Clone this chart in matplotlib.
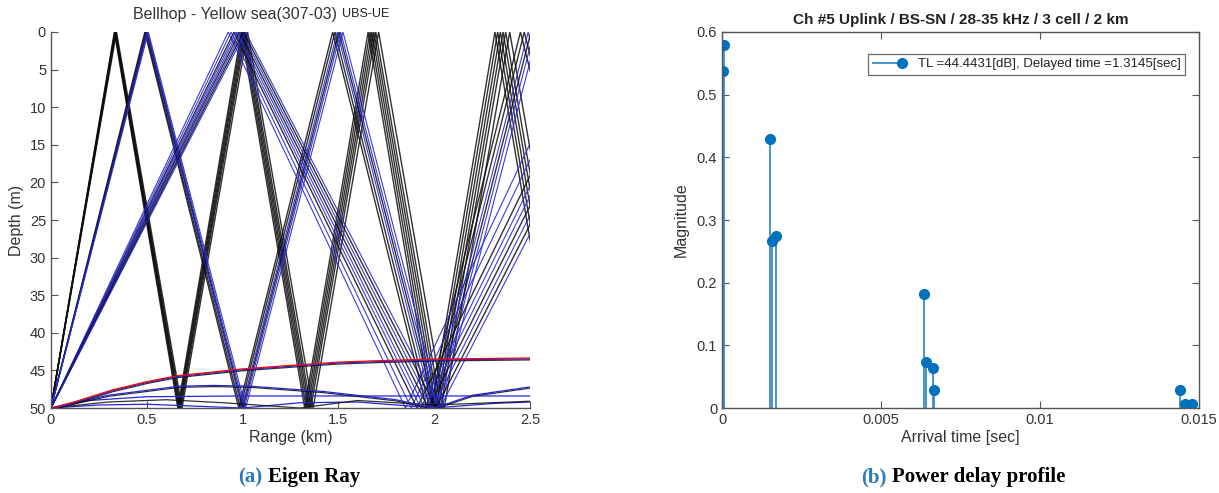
import numpy as np
import matplotlib
matplotlib.use('Agg')
import matplotlib.pyplot as plt
from matplotlib.lines import Line2D
from matplotlib.legend_handler import HandlerLine2D

plt.rcParams['font.family'] = ['Liberation Sans', 'DejaVu Sans']

# ---- (a) Eigen ray data ----
# straight (surface/bottom bouncing) rays: half-skip distance in km and colour
f1_skip = [0.331, 0.333, 0.335, 0.337, 0.339, 0.342]
f1_color = ['k', 'k', 'k', 'k', 'k', 'k']
f2_skip = [0.490, 0.494, 0.498, 0.501, 0.504, 0.508]
f2_color = ['k', 'k', 'b', 'k', 'b', 'b']
f3_skip = [0.925, 0.940, 0.955, 0.965, 0.975, 0.985, 0.995, 1.005, 1.015]
f3_color = ['b', 'b', 'k', 'b', 'b', 'k', 'b', 'k', 'b']

# bottom-refracted rays (range km, depth m)
ray_a_r = [0, 0.12, 0.32, 0.5, 0.66, 1.0, 1.27, 1.5, 1.72, 2.0, 2.5]
ray_a_d = [50, 49.2, 47.6, 46.5, 45.7, 44.8, 44.3, 43.9, 43.7, 43.5, 43.35]
ray_b_r = [0, 0.3, 0.67, 0.85, 1.04, 1.42, 1.8, 2.0, 2.2, 2.5]
ray_b_d = [50, 48.3, 47.1, 47.0, 47.1, 47.8, 48.9, 50, 48.3, 47.2]
ray_c_r = [0, 0.2, 0.5, 1.0, 1.5, 2.0, 2.5]
ray_c_d = [50, 49.0, 48.5, 48.4, 48.4, 48.4, 48.4]
ray_d_r = [0, 0.3, 0.6, 0.9, 1.3, 1.6, 2.0, 2.3, 2.5]
ray_d_d = [50, 49.2, 48.9, 49.3, 50, 49.0, 49.6, 49.3, 49.1]
ray_e_r = [0, 0.25, 0.5, 0.8, 1.0, 1.3, 1.6, 2.0, 2.3, 2.5]
ray_e_d = [50, 49.6, 49.5, 49.8, 50, 49.3, 49.2, 50, 49.4, 49.2]

# ---- (b) Power delay profile data ----
arrival_t = [0.00003, 0.00005, 0.00151, 0.00157, 0.00171,
             0.00636, 0.00640, 0.00665, 0.00668,
             0.01440, 0.01455, 0.01478]
magnitude = [0.537, 0.580, 0.429, 0.267, 0.275,
             0.182, 0.073, 0.064, 0.029,
             0.028, 0.006, 0.006]
legend_text = 'TL =44.4431[dB], Delayed time =1.3145[sec]'

COLS = {'k': (0.05, 0.05, 0.05), 'b': (0.15, 0.15, 0.85)}
AX_GRAY = '#555555'
TXT_GRAY = '#333333'
STEM_C = '#3a8ccc'
MARK_C = '#0072BD'

fig = plt.figure(figsize=(12.19, 4.93), dpi=100)

# ---------------- left panel ----------------
ax1 = fig.add_axes([0.0418, 0.1724, 0.393, 0.7627])

def zigzag(skip):
    n = int(2.6 / skip) + 2
    k = np.arange(n)
    return k * skip, np.where(k % 2 == 0, 50.0, 0.0)

for skips, cols in [(f1_skip, f1_color), (f2_skip, f2_color), (f3_skip, f3_color)]:
    for s, c in zip(skips, cols):
        r, d = zigzag(s)
        ax1.plot(r, d, color=COLS[c], lw=1.0 if c == 'k' else 0.8,
                 alpha=0.85 if c == 'k' else 0.9)

ax1.plot(ray_e_r, ray_e_d, color=COLS['b'], lw=0.9)
ax1.plot(ray_d_r, ray_d_d, color=COLS['k'], lw=0.9, alpha=0.85)
ax1.plot(ray_c_r, ray_c_d, color=COLS['b'], lw=0.9)
ax1.plot(ray_b_r, np.array(ray_b_d) + 0.15, color=COLS['k'], lw=0.9, alpha=0.85)
ax1.plot(ray_b_r, ray_b_d, color=COLS['b'], lw=0.9)
ax1.plot(ray_a_r, np.array(ray_a_d) + 0.25, color=COLS['k'], lw=0.9, alpha=0.85)
ax1.plot(ray_a_r, np.array(ray_a_d) + 0.12, color=COLS['b'], lw=0.9)
ax1.plot(ray_a_r, ray_a_d, color='red', lw=0.9)

ax1.set_xlim(0, 2.5)
ax1.set_ylim(50, 0)
ax1.set_xticks([0, 0.5, 1, 1.5, 2, 2.5])
ax1.set_xticklabels(['0', '0.5', '1', '1.5', '2', '2.5'])
ax1.set_yticks(np.arange(0, 51, 5))
ax1.spines['top'].set_visible(False)
ax1.spines['right'].set_visible(False)
for sp in ['left', 'bottom']:
    ax1.spines[sp].set_color(AX_GRAY)
    ax1.spines[sp].set_linewidth(1.0)
ax1.tick_params(direction='in', length=5, color=AX_GRAY, labelcolor=TXT_GRAY,
                labelsize=10.5)
ax1.set_xlabel('Range (km)', fontsize=11.5, color=TXT_GRAY, labelpad=2)
ax1.set_ylabel('Depth (m)', fontsize=11.5, color=TXT_GRAY, labelpad=4)
fig.text(133 / 1219, 1 - 14 / 493, 'Bellhop - Yellow sea(307-03)', fontsize=11.5,
         color=TXT_GRAY, ha='left', va='center')
fig.text(342 / 1219, 1 - 14 / 493, 'UBS-UE', fontsize=9, color='#222222',
         ha='left', va='center')

# ---------------- right panel ----------------
ax2 = fig.add_axes([0.5923, 0.1724, 0.3913, 0.7627])
markerline, stemlines, baseline = ax2.stem(
    arrival_t, magnitude, linefmt='-', markerfmt='o', basefmt=' ')
plt.setp(stemlines, color=STEM_C, linewidth=1.3)
plt.setp(markerline, color=MARK_C, markersize=7)

ax2.set_xlim(0, 0.015)
ax2.set_ylim(0, 0.6)
ax2.set_xticks([0, 0.005, 0.01, 0.015])
ax2.set_xticklabels(['0', '0.005', '0.01', '0.015'])
ax2.set_yticks([0, 0.1, 0.2, 0.3, 0.4, 0.5, 0.6])
ax2.set_yticklabels(['0', '0.1', '0.2', '0.3', '0.4', '0.5', '0.6'])
for sp in ax2.spines.values():
    sp.set_color(AX_GRAY)
    sp.set_linewidth(1.0)
ax2.tick_params(direction='in', length=5, color=AX_GRAY, labelcolor=TXT_GRAY,
                labelsize=10.5, top=True, right=True)
ax2.set_xlabel('Arrival time [sec]', fontsize=11.5, color=TXT_GRAY, labelpad=2)
ax2.set_ylabel('Magnitude', fontsize=11.5, color=TXT_GRAY, labelpad=6)
ax2.set_title('Ch #5 Uplink / BS-SN / 28-35 kHz / 3 cell / 2 km',
              fontsize=11, fontweight='bold', color='#222222', pad=6)


# legend key like MATLAB's stem: a line with the marker at its right end
class StemKey(HandlerLine2D):
    def create_artists(self, legend, orig_handle, xdescent, ydescent,
                       width, height, fontsize, trans):
        y = height / 2 - ydescent
        ln = Line2D([-xdescent, width - xdescent], [y, y], color=STEM_C, lw=1.3)
        mk = Line2D([width - xdescent - 4], [y], ls='', marker='o',
                    color=MARK_C, markersize=7)
        ln.set_transform(trans)
        mk.set_transform(trans)
        return [ln, mk]


key = Line2D([], [], color=STEM_C)
leg = ax2.legend([key], [legend_text], handler_map={key: StemKey()},
                 loc='upper right', fontsize=9.5, frameon=True, fancybox=False,
                 handlelength=2.6, borderpad=0.35, bbox_to_anchor=(0.985, 0.96))
leg.get_frame().set_edgecolor('#444444')
leg.get_frame().set_linewidth(0.9)
for t in leg.get_texts():
    t.set_color('#222222')

# ---------------- captions ----------------
cap_y = 1 - 482 / 493
cap = dict(fontsize=15, fontweight='bold', family='Liberation Serif', va='baseline')
fig.text(262 / 1219, cap_y, '(a)', color='#2a7ab8', ha='right', **cap)
fig.text(268 / 1219, cap_y, 'Eigen Ray', color='black', ha='left', **cap)
fig.text(886 / 1219, cap_y, '(b)', color='#2a7ab8', ha='right', **cap)
fig.text(892 / 1219, cap_y, 'Power delay profile', color='black', ha='left', **cap)

fig.savefig('out.png', dpi=100)
